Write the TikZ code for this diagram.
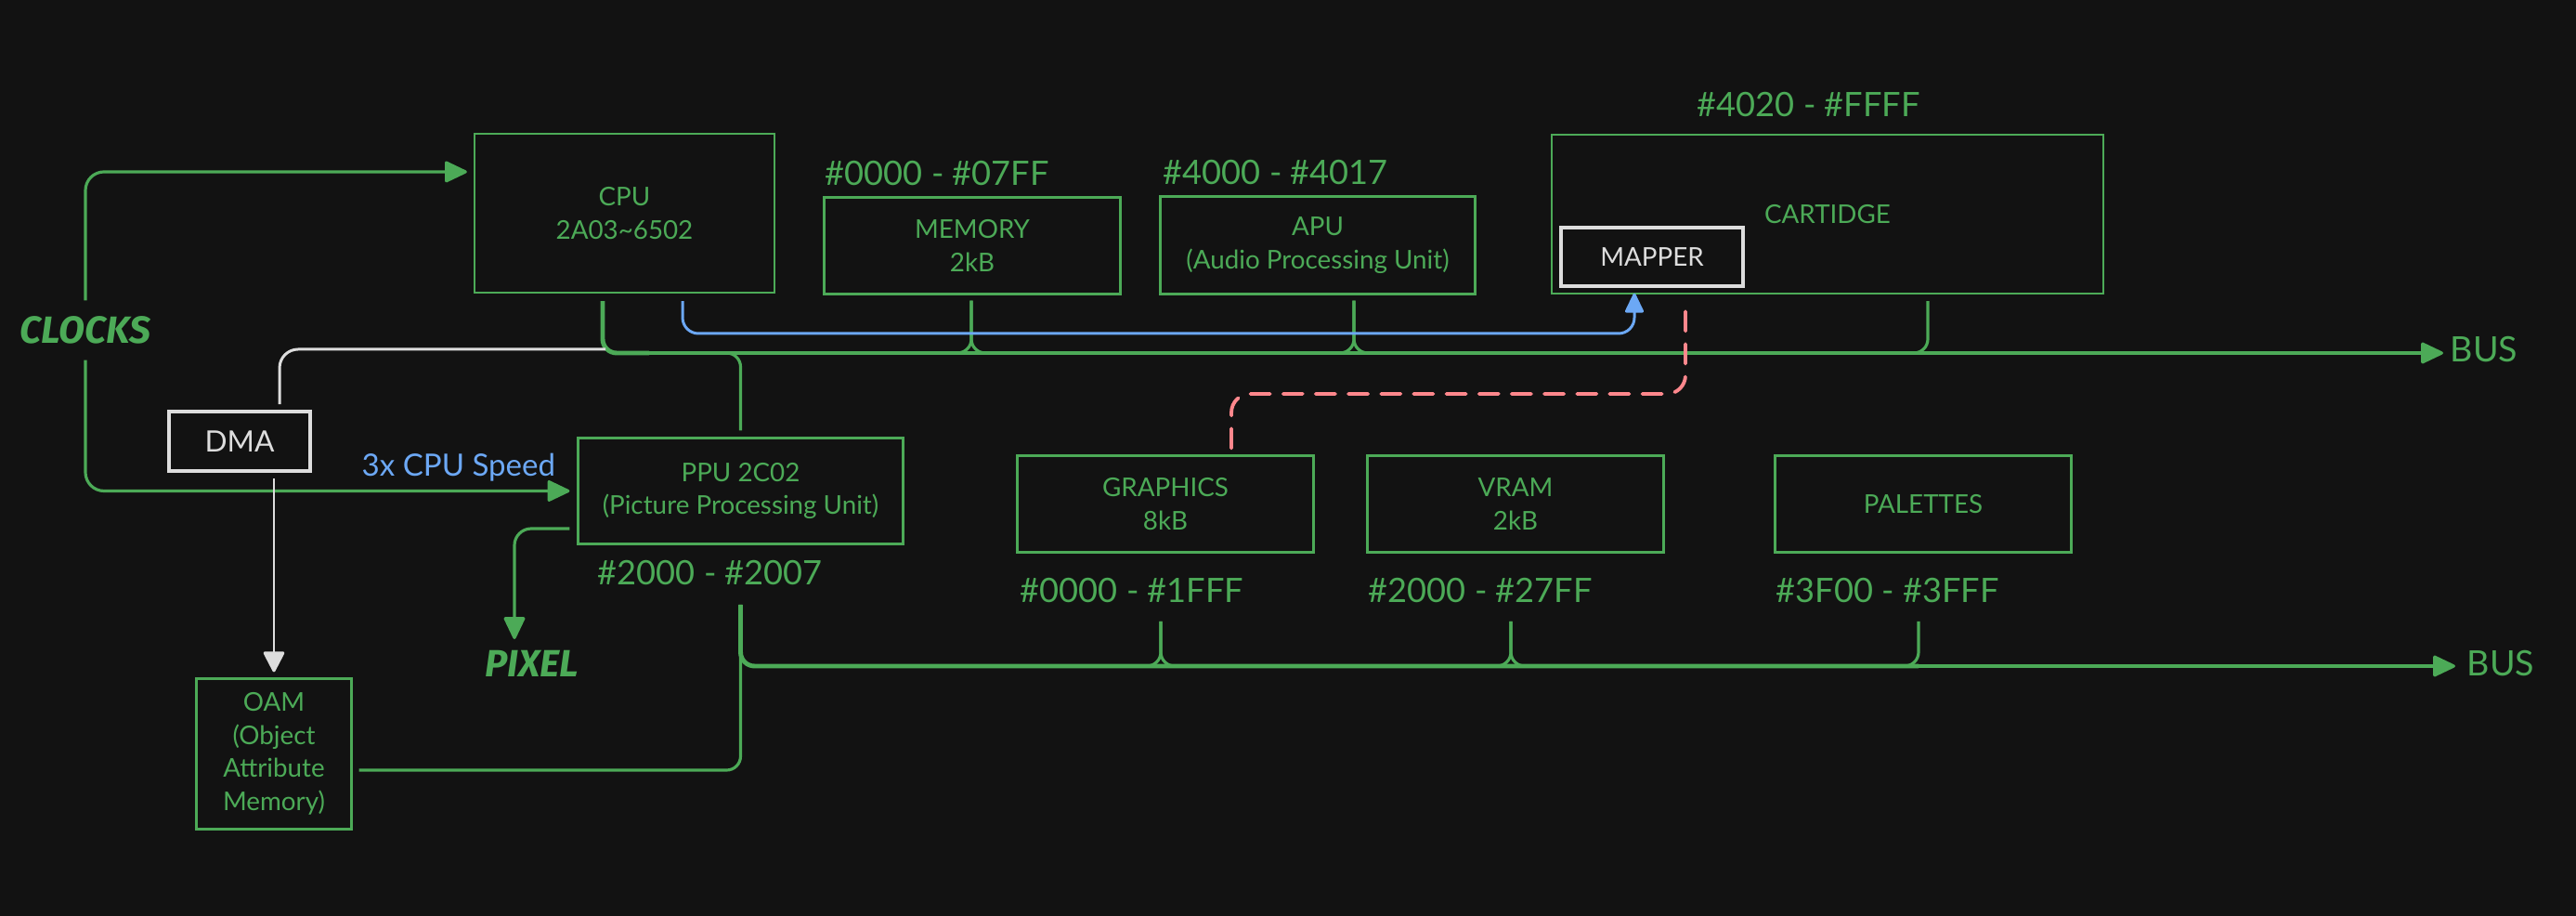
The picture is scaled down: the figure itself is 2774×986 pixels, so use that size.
\documentclass[tikz,border=0pt]{standalone}
\usepackage{fontspec}
\setmainfont{Lato}
\newfontfamily\handfont{Fira Sans}
\usetikzlibrary{arrows.meta}

\definecolor{bg}{HTML}{121212}
\definecolor{nesgreen}{HTML}{4CAA57}
\definecolor{speedblue}{HTML}{6CA8F5}
\definecolor{romred}{HTML}{FF878C}
\definecolor{dmawhite}{HTML}{DDDDDD}

\tikzset{
	unit/.style={draw=nesgreen, line width=0.85pt, text=nesgreen, align=center, inner sep=0pt, font=\fontsize{7.9}{10.2}\selectfont},
	chip/.style={unit, line width=0.6pt},
	helper/.style={unit, draw=dmawhite, text=dmawhite, line width=1pt},
	addr/.style={text=nesgreen, inner sep=0pt, anchor=base west, font=\fontsize{10.3}{12}\selectfont},
	scribble/.style={text=nesgreen, inner sep=0pt, font=\handfont\bfseries\itshape\fontsize{11.6}{13}\selectfont},
	bus/.style={draw=nesgreen, line width=0.9pt, rounded corners=0.15cm},
	bustip/.style={-{Triangle[length=7.4pt,width=6.8pt,round]}},
	speedline/.style={draw=speedblue, line width=0.85pt, -{Triangle[length=6.5pt,width=6pt,round]}},
	dmaline/.style={draw=dmawhite, line width=0.85pt, rounded corners=0.2cm},
	romline/.style={draw=romred, line width=1.1pt, dash pattern=on 6pt off 4pt, line cap=round, rounded corners=0.2cm}
}

\begin{document}
\begin{tikzpicture}[x=0.01cm, y=-0.01cm]
	\fill[bg] (0,0) rectangle (2774,986);
	\useasboundingbox (0,0) rectangle (2774,986);

	% cpu side
	\node[chip, minimum width=3.23cm, minimum height=1.71cm] (cpu) at (672.5,229.5) {CPU\\2A03\textasciitilde6502};
	\node[unit, minimum width=3.18cm, minimum height=1.03cm] (mem) at (1047,264.5) {MEMORY\\2kB};
	\node[unit, minimum width=3.38cm, minimum height=1.04cm] (apu) at (1419,264) {APU\\(Audio Processing Unit)};
	\node[chip, minimum width=5.94cm, minimum height=1.71cm] (cart) at (1968,230.5) {CARTIDGE};
	\node[helper, minimum width=1.96cm, minimum height=0.63cm] (mapper) at (1779,276.5) {MAPPER};

	\node[addr] (memaddr) at (888,200) {\#0000 - \#07FF};
	\node[addr] (apuaddr) at (1252,199) {\#4000 - \#4017};
	\node[addr] (cartaddr) at (1827,126) {\#4020 - \#FFFF};

	% ppu side
	\node[helper, font=\fontsize{9}{10}\selectfont, minimum width=1.52cm, minimum height=0.64cm] (dma) at (258,475) {DMA};
	\node[unit, minimum width=3.49cm, minimum height=1.13cm] (ppu) at (797.5,528.5) {PPU 2C02\\(Picture Processing Unit)};
	\node[unit, minimum width=1.66cm, minimum height=1.61cm, font=\fontsize{7.9}{10.1}\selectfont] (oam) at (295,811.5) {OAM\\(Object\\Attribute\\Memory)};
	\node[unit, minimum width=3.18cm, minimum height=1.03cm] (gfx) at (1255,542.5) {GRAPHICS\\8kB};
	\node[unit, minimum width=3.18cm, minimum height=1.03cm] (vram) at (1632,542.5) {VRAM\\2kB};
	\node[unit, minimum width=3.18cm, minimum height=1.03cm] (pal) at (2071,542.5) {PALETTES};

	\node[addr] (ppuaddr) at (643,630) {\#2000 - \#2007};
	\node[addr] (gfxaddr) at (1098,649) {\#0000 - \#1FFF};
	\node[addr] (vramaddr) at (1473,649) {\#2000 - \#27FF};
	\node[addr] (paladdr) at (1912,649) {\#3F00 - \#3FFF};

	% loose labels
	\node[scribble, minimum height=0.63cm] (clocks) at (92,355.5) {CLOCKS};
	\node[scribble, anchor=base] (pixel) at (573,729) {PIXEL};
	\node[addr, text=speedblue, font=\fontsize{9.4}{10}\selectfont] (speed) at (389,513) {3x CPU Speed};
	\node[addr, font=\fontsize{10.7}{12}\selectfont] (topbus) at (2638,390) {BUS};
	\node[addr, font=\fontsize{10.7}{12}\selectfont] (lowbus) at (2656,728) {BUS};

	% points on the two buses
	\coordinate (cpustem) at (649,380);
	\coordinate (ppujoin) at (797,380);
	\coordinate (memtap) at (1046,380);
	\coordinate (aputap) at (1458,380);
	\coordinate (carttap) at (2076,380);
	\coordinate (topend) at (2631,380);
	\coordinate (gfxtap) at (1250,717);
	\coordinate (vramtap) at (1627,717);
	\coordinate (paltap) at (2066,717);
	\coordinate (lowend) at (2644,717);
	\coordinate (dmajoin) at (652,376);
	\coordinate (speedturn) at (1760,359);
	\coordinate (romturn) at (1815,424);
	\coordinate (pixeltip) at (554,688);

	\newcommand\drawTap[3]{\foreach \s in {-1,1} \draw[bus, shorten >=#3] ([xshift=\s*0.25cm]#2) -| (#1 -| #2);}

	% clocks
	\draw[bus, bustip, rounded corners=0.2cm, shorten >=0.07cm] (clocks.north) |- ([yshift=0.445cm]cpu.west);
	\draw[bus, bustip, rounded corners=0.2cm, shorten >=0.08cm] (clocks.south) |- (ppu.west);

	% cpu bus
	\draw[bus, line width=1.4pt, shorten <=0.08cm] (cpu.south -| cpustem) |- ([xshift=0.5cm]cpustem);
	\draw[bus, bustip] ([xshift=0.3cm]cpustem) -- (topend);
	\draw[bus, line width=1.4pt] ([xshift=-0.43cm]mapper.south |- cpustem) -- ([xshift=-0.12cm]carttap);
	\draw[bus, shorten <=0.07cm] (ppu.north) |- ([xshift=-0.3cm]ppujoin);
	\drawTap{mem.south}{memtap}{0.06cm}
	\drawTap{apu.south}{aputap}{0.06cm}
	\draw[bus, shorten >=0.07cm] ([xshift=-0.3cm]carttap) -| (cart.south -| carttap);

	% ppu bus
	\draw[bus, line width=1.4pt, shorten <=0.2cm] (ppuaddr.south -| ppu.south) |- (paltap);
	\draw[bus, bustip] ([xshift=-0.2cm]paltap) -- (lowend);
	\draw[bus, shorten <=0.2cm, shorten >=0.07cm] (ppuaddr.south -| ppu.south) |- ([yshift=-0.175cm]oam.east);
	\drawTap{gfxaddr.south}{gfxtap}{0.19cm}
	\drawTap{vramaddr.south}{vramtap}{0.19cm}
	\draw[bus, shorten >=0.19cm] ([xshift=-0.3cm]paltap) -| (paladdr.south -| paltap);

	% dma, speed, mapper and pixel lines
	\draw[dmaline, shorten <=0.06cm] ([xshift=0.43cm]dma.north) |- (dmajoin);
	\draw[dmaline, -{Triangle[length=6.8pt,width=6.8pt,round]}, shorten <=0.06cm, shorten >=0.06cm] (dma.south -| oam.north) -- (oam.north);
	\draw[speedline, rounded corners=0.17cm, shorten <=0.08cm, shorten >=0.06cm] ([xshift=0.625cm]cpu.south) |- (speedturn) -- (mapper.south -| speedturn);
	\draw[romline, shorten <=0.07cm, shorten >=0.09cm] ([xshift=0.71cm]gfx.north) |- (romturn) -- (cart.south -| romturn);
	\draw[bus, bustip, rounded corners=0.18cm, shorten <=0.08cm] ([yshift=-0.405cm]ppu.west) -| (pixeltip);
\end{tikzpicture}
\end{document}
